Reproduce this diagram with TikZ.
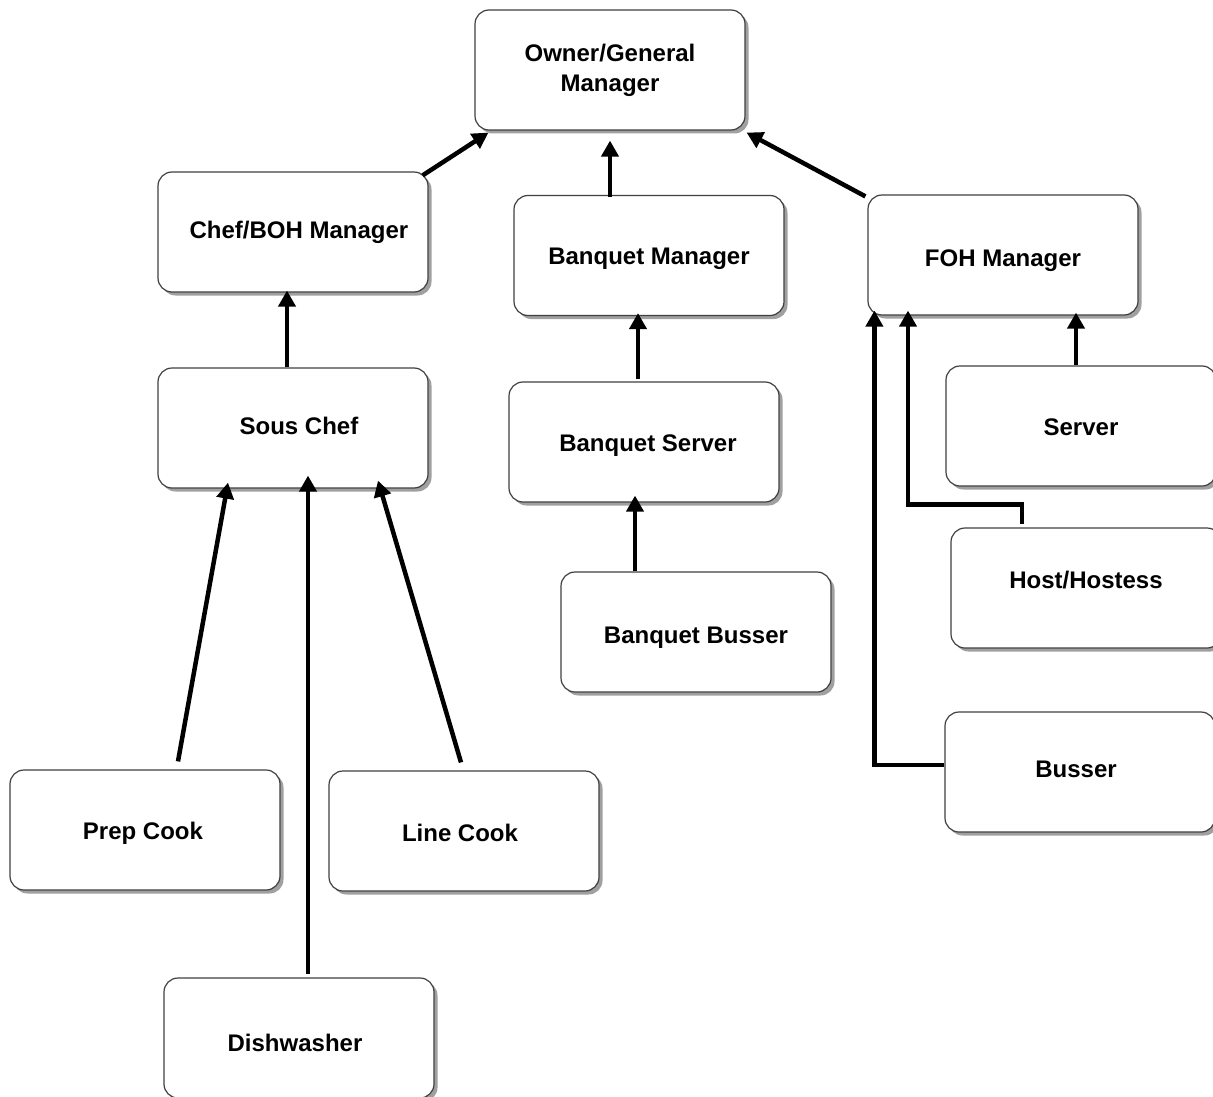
\documentclass[tikz,border=0pt]{standalone}
\usepackage{fontspec}
\setmainfont{Liberation Sans}
\usetikzlibrary{shadows,arrows.meta,calc}
\tikzset{
  basebox/.style={draw=black!75, line width=1.2pt, rounded corners=14pt, fill=white,
    minimum width=270pt, minimum height=120pt, inner sep=0pt,
    font=\fontsize{24}{30}\selectfont\bfseries, align=center,
    drop shadow={shadow xshift=3.5pt, shadow yshift=-3.5pt, fill=black!50, opacity=0.75}},
  box/.style={basebox, text height=18pt, text depth=0pt},
  arr/.style={line width=4.5pt, -{Triangle[length=16pt,width=17pt]}}
}
\begin{document}
\begin{tikzpicture}[x=1pt,y=-1pt]
\useasboundingbox (0,0) rectangle (1213,1097);
\clip (0,0) rectangle (1213,1097);
\node[basebox] (owner) at (610,70) {Owner/General\\Manager};
\node[box, text depth=6pt] (chef) at (293,232) {\hspace*{12pt}Chef/BOH Manager};
\node[box] (bqm) at (649,255.5) {Banquet Manager};
\node[box, text height=22pt] (foh) at (1003,255) {FOH Manager};
\node[box, text depth=6pt] (sous) at (293,428) {\hspace*{12pt}Sous Chef};
\node[box] (bqs) at (644,442) {\hspace*{8pt}Banquet Server};
\node[box] (server) at (1081,426) {Server};
\node[box, text depth=18pt] (host) at (1086,588) {Host/Hostess};
\node[box, text height=22pt] (bqb) at (696,632) {Banquet Busser};
\node[box, text depth=8pt] (busser) at (1080,772) {\hspace*{-8pt}Busser};
\node[box] (prep) at (145,830) {\hspace*{-4pt}Prep Cook};
\node[box, text height=20pt] (line) at (464,831) {\hspace*{-8pt}Line Cook};
\node[box, text height=26pt] (dish) at (299,1038) {\hspace*{-8pt}Dishwasher};

\draw[arr] ($(chef.north east)+(-6,4)$) -- ($(owner.south west)+(14,2)$);
\draw[arr] ($(bqm.north)+(-39,2)$) -- ($(owner.south)+(0,10)$);
\draw[arr] ($(foh.north west)+(-2,2)$) -- ($(owner.south east)+(1,2)$);
\draw[arr] ($(sous.north)+(-6,0)$) -- ($(chef.south)+(-6,-2)$);
\draw[arr] ($(bqs.north)+(-6,-2)$) -- ($(bqm.south)+(-11,-3)$);
\draw[arr] ($(bqb.north)+(-61,0)$) -- ($(bqs.south)+(-9,-7)$);
\draw[arr] ($(server.north)+(-5,0)$) -- ($(foh.south)+(73,-3)$);
\draw[arr] ($(host.north)+(-64,-3)$) -- ++(0,-20) -| ($(foh.south)+(-95,-5)$);
\draw[arr] ($(busser.west)+(0,-7)$) -| ($(foh.south west)+(7,-5)$);
\draw[arr] ($(prep.north)+(33,-8)$) -- ($(sous.south)+(-65,-6)$);
\draw[arr] ($(dish.north)+(9,-3)$) -- ($(sous.south)+(15,-13)$);
\draw[arr] ($(line.north)+(-3,-8)$) -- ($(sous.south)+(85,-8)$);
\end{tikzpicture}
\end{document}
